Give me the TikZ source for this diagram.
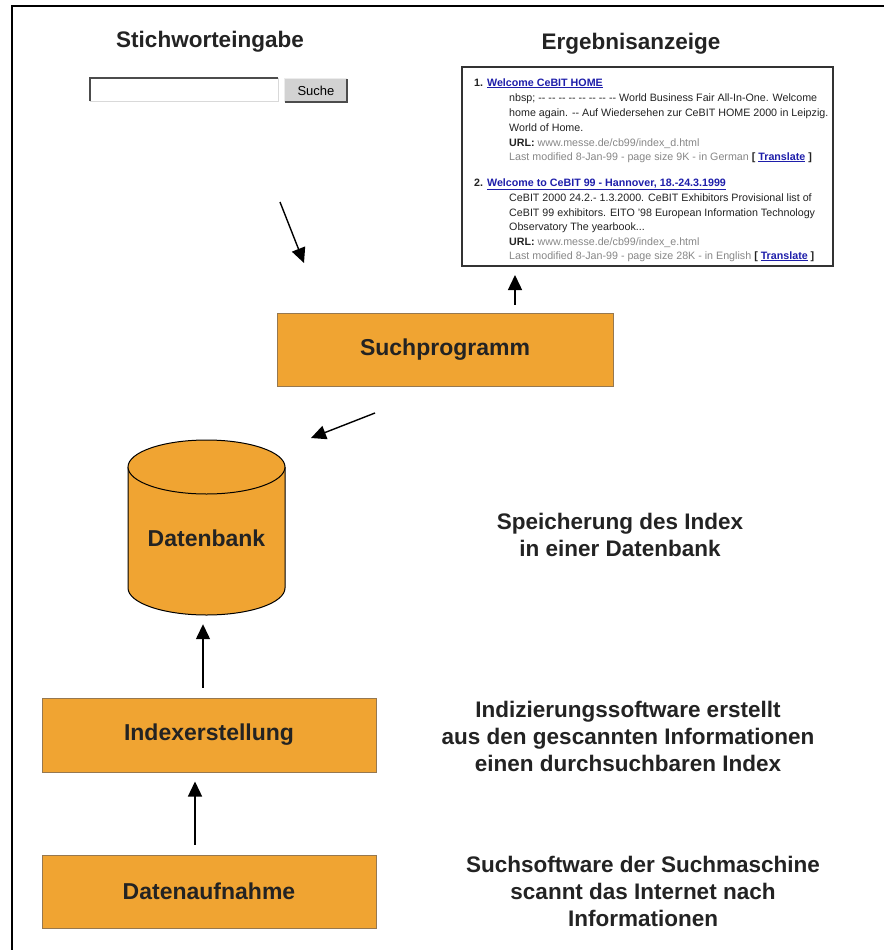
\documentclass[tikz,border=0pt]{standalone}
\usepackage{fontspec}
\setmainfont{Liberation Sans}
\usetikzlibrary{arrows.meta}
\definecolor{boxfill}{RGB}{240,164,50}
\definecolor{boxline}{RGB}{150,120,80}
\definecolor{linkblue}{RGB}{30,30,170}
\definecolor{greytext}{RGB}{135,135,135}
\definecolor{darktext}{RGB}{35,35,35}
\tikzset{
  procbox/.style={draw=boxline, line width=1pt, fill=boxfill, minimum width=336pt, minimum height=73pt, inner sep=0pt, font=\bfseries\fontsize{23}{27}\selectfont, text=darktext},
  bigtext/.style={align=center, font=\bfseries\fontsize{22.5}{27}\selectfont, text=darktext},
  arr/.style={line width=1.4pt, -{Triangle[length=15pt,width=14pt]}},
  res/.style={anchor=base west, inner sep=0pt, font=\fontsize{10.7}{13}\selectfont, text=darktext},
}
\newcommand{\lnk}[1]{\textcolor{linkblue}{\bfseries\underline{#1}}}
\newcommand{\gry}[1]{\textcolor{greytext}{#1}}
\newcommand{\dd}{-{}-}
\begin{document}
\begin{tikzpicture}[x=1pt,y=-1pt]
\useasboundingbox (0,0) rectangle (884,950);
\fill[white] (0,0) rectangle (884,950);
% frame
\draw[line width=2pt] (12,950) -- (12,6) -- (884,6);

% headings
\node[bigtext] (h1) at (210,42) {Stichworteingabe};
\node[bigtext] (h2) at (631,44) {Ergebnisanzeige};

% search field
\node[draw=none, fill=white, minimum width=188pt, minimum height=23pt, inner sep=0pt] (field) at (184,89.5) {};
\draw[line width=2pt, gray!60!black] (field.south west) -- (field.north west) -- (field.north east);
\draw[line width=1pt, gray!30] (field.north east) -- (field.south east) -- (field.south west);
\node[fill=gray!35, minimum width=62pt, minimum height=23pt, inner sep=0pt, font=\fontsize{13}{15}\selectfont] (btn) at (316,90.5) {Suche};
\draw[line width=1.5pt, gray!60!black] (btn.north east) -- (btn.south east) -- (btn.south west);
\draw[line width=1pt, gray!15] (btn.south west) -- (btn.north west) -- (btn.north east);

% results box
\node[draw=black!80, line width=2pt, fill=white, minimum width=371pt, minimum height=199pt, inner sep=0pt] (results) at (647.5,166.5) {};
\node[res] (r1) at (474,86) {\bfseries 1. \lnk{Welcome CeBIT HOME}};
\node[res] (r2) at (509,101) {nbsp; \dd{} \dd{} \dd{} \dd{} \dd{} \dd{} \dd{} \dd{} World Business Fair All-In-One. Welcome};
\node[res] (r3) at (509,116) {home again. \dd{} Auf Wiedersehen zur CeBIT HOME 2000 in Leipzig.};
\node[res] (r4) at (509,131) {World of Home.};
\node[res] (r5) at (509,146) {\textbf{URL:} \gry{www.messe.de/cb99/index\_d.html}};
\node[res] (r6) at (509,160) {\gry{Last modified 8-Jan-99 - page size 9K - in German} \textbf{[} \lnk{Translate} \textbf{]}};
\node[res] (r7) at (474,186) {\bfseries 2. \lnk{Welcome to CeBIT 99 - Hannover, 18.-24.3.1999}};
\node[res] (r8) at (509,201) {CeBIT 2000 24.2.- 1.3.2000. CeBIT Exhibitors Provisional list of};
\node[res] (r9) at (509,216) {CeBIT 99 exhibitors. EITO '98 European Information Technology};
\node[res] (r10) at (509,230) {Observatory The yearbook...};
\node[res] (r11) at (509,245) {\textbf{URL:} \gry{www.messe.de/cb99/index\_e.html}};
\node[res] (r12) at (509,259) {\gry{Last modified 8-Jan-99 - page size 28K - in English} \textbf{[} \lnk{Translate} \textbf{]}};

% process boxes
\node[procbox] (sp) at (445,349.5) {Suchprogramm};
\node[procbox, minimum width=334pt, minimum height=74pt] (ix) at (209,735) {Indexerstellung};
\node[procbox, minimum width=334pt, minimum height=73pt] (da) at (209,891.5) {Datenaufnahme};

% database cylinder
\fill[boxfill] (128,467) -- (128,588) arc[start angle=180, end angle=360, x radius=78.5, y radius=-27] -- (285,467) -- cycle;
\draw[line width=1pt] (128,467) -- (128,588) arc[start angle=180, end angle=360, x radius=78.5, y radius=-27] -- (285,467);
\draw[line width=1pt, fill=boxfill] (206.5,467) ellipse[x radius=78.5, y radius=27];
\node[minimum width=157pt, minimum height=175pt, inner sep=0pt] (db) at (206.5,527.5) {};
\node[font=\bfseries\fontsize{23}{27}\selectfont, text=darktext] (dblabel) at (206.5,538) {Datenbank};

% descriptive texts
\node[bigtext] (t1) at (620,535) {Speicherung des Index\\in einer Datenbank};
\node[bigtext] (t2) at (628,736) {Indizierungssoftware erstellt\\aus den gescannten Informationen\\einen durchsuchbaren Index};
\node[bigtext] (t3) at (643,891) {Suchsoftware der Suchmaschine\\scannt das Internet nach\\Informationen};

% arrows
\coordinate (a1s) at (280,202);
\coordinate (a1e) at (304,263);
\draw[arr] (a1s) -- (a1e);
\coordinate (a2s) at (sp.north -| 515,0);
\coordinate (a2e) at (results.south -| 515,0);
\draw[arr, shorten <=8pt, shorten >=8pt] (a2s) -- (a2e);
\coordinate (a3s) at (375,413);
\coordinate (a3e) at (311,438);
\draw[arr] (a3s) -- (a3e);
\coordinate (a4s) at (ix.north -| 203,0);
\coordinate (a4e) at (db.south -| 203,0);
\draw[arr, shorten <=10pt, shorten >=9pt] (a4s) -- (a4e);
\coordinate (a5s) at (da.north -| 195,0);
\coordinate (a5e) at (ix.south -| 195,0);
\draw[arr, shorten <=10pt, shorten >=9pt] (a5s) -- (a5e);
\end{tikzpicture}
\end{document}
